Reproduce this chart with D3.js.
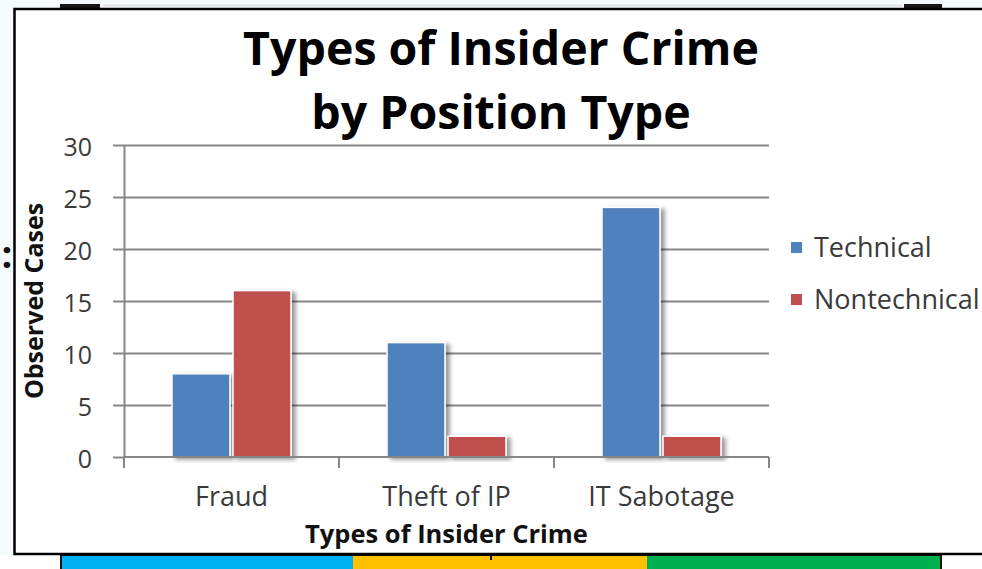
<!DOCTYPE html>
<html>
<head>
<meta charset="utf-8">
<script src="https://cdn.jsdelivr.net/npm/d3@7"></script>
<style>
  html, body { margin: 0; padding: 0; background: #f4fbfd; overflow: hidden; }
  svg { display: block; }
  text { font-family: "Open Sans", Lato, sans-serif; }
</style>
</head>
<body>
<svg id="chart" width="982" height="569"></svg>
<script>
// ---- data ----
const categories = ["Fraud", "Theft of IP", "IT Sabotage"];
const seriesNames = ["Technical", "Nontechnical"];
const technical = [8, 11, 24];
const nontechnical = [16, 2, 2];
const yTicks = [0, 5, 10, 15, 20, 25, 30];
const titleLines = ["Types of Insider Crime", "by Position Type"];
const xAxisTitle = "Types of Insider Crime";
const yAxisTitle = "Observed Cases";
const seriesColors = ["#4f81bd", "#c0504d"];

const seriesValues = [technical, nontechnical];
const rows = categories.map((c, i) => ({
  category: c,
  values: seriesNames.map((s, j) => ({ series: s, value: seriesValues[j][i], color: seriesColors[j] }))
}));

const svg = d3.select("#chart");
const W = 982, H = 569;
const FONT = "'Open Sans', Lato, sans-serif";

// ---- page surroundings ----
svg.append("rect").attr("x", 0).attr("y", 555).attr("width", W).attr("height", H - 555).attr("fill", "#ffffff");
svg.append("line").attr("x1", 103).attr("x2", 903).attr("y1", 5.5).attr("y2", 5.5)
  .attr("stroke", "#dfe3e4").attr("stroke-width", 2);
svg.append("rect").attr("x", 60).attr("y", 4).attr("width", 40).attr("height", 4).attr("fill", "#151515");
svg.append("rect").attr("x", 904).attr("y", 4).attr("width", 38).attr("height", 4).attr("fill", "#151515");

const strip = [["#00b0f0", 62, 353], ["#ffc000", 353, 647], ["#00b050", 647, 940]];
svg.append("rect").attr("x", 60).attr("y", 554).attr("width", 882).attr("height", 15).attr("fill", "#111");
strip.forEach(([c, a, b]) => {
  svg.append("rect").attr("x", a).attr("y", 556).attr("width", b - a).attr("height", 13).attr("fill", c);
});
svg.append("rect").attr("x", 490).attr("y", 555).attr("width", 2).attr("height", 5).attr("fill", "#111");

svg.append("text").attr("x", 1.5).attr("y", 268)
  .attr("font-size", 38).attr("font-weight", 700).attr("fill", "#111").text(":");

// ---- chart frame ----
svg.append("rect").attr("x", 14.5).attr("y", 9).attr("width", 1000).attr("height", 545)
  .attr("fill", "#ffffff").attr("stroke", "#000").attr("stroke-width", 2.5);

// drop shadow for the bars
const defs = svg.append("defs");
const f = defs.append("filter").attr("id", "barShadow")
  .attr("x", "-10%").attr("y", "-10%").attr("width", "140%").attr("height", "130%");
f.append("feDropShadow").attr("dx", 4).attr("dy", 2).attr("stdDeviation", 2)
  .attr("flood-color", "#000").attr("flood-opacity", 0.4);

// ---- scales ----
const plotLeft = 124, plotRight = 769, plotTop = 145, plotBottom = 457;
const x0 = d3.scaleBand().domain(categories).range([plotLeft, plotRight]).padding(0);
const x1 = d3.scaleBand().domain(seriesNames).range([48, 167]).paddingInner(0.05);
const y = d3.scaleLinear().domain([0, 30]).range([plotBottom, plotTop]);

const axisColor = "#868686";
const labelColor = "#3a3a3a";

// gridlines
const grid = svg.append("g").attr("transform", `translate(${plotLeft},0)`)
  .call(d3.axisLeft(y).tickValues(yTicks.filter(t => t > 0)).tickSize(-(plotRight - plotLeft)).tickFormat(""));
grid.select(".domain").remove();
grid.selectAll("line").attr("stroke", axisColor).attr("stroke-width", 2);

// y axis
const yAxis = svg.append("g").attr("transform", `translate(${plotLeft},0)`)
  .call(d3.axisLeft(y).tickValues(yTicks).tickSizeInner(11).tickSizeOuter(0).tickPadding(21));
yAxis.select(".domain").attr("stroke", axisColor).attr("stroke-width", 2);
yAxis.selectAll(".tick line").attr("stroke", axisColor).attr("stroke-width", 2);
yAxis.selectAll(".tick text").attr("font-family", FONT).attr("font-size", 25)
  .attr("fill", labelColor).attr("dy", "0.42em");

// bars
const groups = svg.append("g").selectAll("g").data(rows).join("g")
  .attr("transform", d => `translate(${x0(d.category)},0)`);
groups.selectAll("rect").data(d => d.values).join("rect")
  .attr("x", d => x1(d.series))
  .attr("y", d => y(d.value))
  .attr("width", x1.bandwidth())
  .attr("height", d => y(0) - y(d.value))
  .attr("fill", d => d.color)
  .attr("stroke", "#ffffff").attr("stroke-width", 1.5)
  .attr("filter", "url(#barShadow)");

// x axis: baseline, boundary ticks, category labels
svg.append("line").attr("x1", plotLeft).attr("x2", plotRight).attr("y1", plotBottom).attr("y2", plotBottom)
  .attr("stroke", axisColor).attr("stroke-width", 2);
const bounds = categories.map(c => x0(c)).concat([x0(categories[categories.length - 1]) + x0.bandwidth()]);
svg.append("g").selectAll("line").data(bounds).join("line")
  .attr("x1", d => d).attr("x2", d => d).attr("y1", plotBottom).attr("y2", plotBottom + 11)
  .attr("stroke", axisColor).attr("stroke-width", 2);
const xAxis = svg.append("g").attr("transform", `translate(0,${plotBottom})`)
  .call(d3.axisBottom(x0).tickSize(0).tickPadding(30));
xAxis.select(".domain").remove();
xAxis.selectAll(".tick text").attr("font-family", FONT).attr("font-size", 27).attr("fill", labelColor);

// titles
svg.append("g").selectAll("text").data(titleLines).join("text")
  .attr("x", 501).attr("y", (d, i) => 65 + i * 64)
  .attr("text-anchor", "middle").attr("font-size", 46.5).attr("font-weight", 700).attr("fill", "#000")
  .text(d => d);

svg.append("text").attr("x", 446.5).attr("y", 543).attr("text-anchor", "middle")
  .attr("font-size", 25.5).attr("font-weight", 700).attr("fill", "#111").text(xAxisTitle);

svg.append("text").attr("transform", "translate(43,301) rotate(-90)").attr("text-anchor", "middle")
  .attr("font-size", 25).attr("font-weight", 700).attr("fill", "#111").text(yAxisTitle);

// legend
const legend = svg.append("g").selectAll("g").data(seriesNames).join("g")
  .attr("transform", (d, i) => `translate(791,${242 + i * 52})`);
legend.append("rect").attr("width", 11).attr("height", 11).attr("fill", (d, i) => seriesColors[i]);
legend.append("text").attr("x", 23).attr("y", 15).attr("font-size", 27).attr("fill", labelColor).text(d => d);
</script>
</body>
</html>
